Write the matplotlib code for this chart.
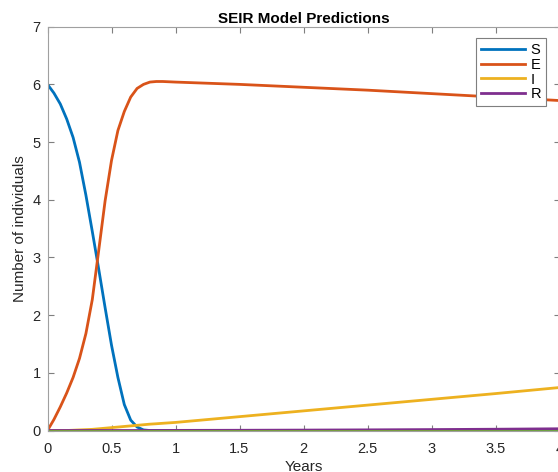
import numpy as np
import matplotlib
matplotlib.use("Agg")
import matplotlib.pyplot as plt

plt.rcParams['font.family'] = ['Liberation Sans', 'DejaVu Sans']

# Time points (years)
t = [0, 0.05, 0.1, 0.15, 0.2, 0.25, 0.3, 0.35, 0.4, 0.45, 0.5, 0.55, 0.6, 0.65,
     0.7, 0.75, 0.8, 0.85, 0.9, 1.0, 1.5, 2.0, 2.5, 3.0, 3.5, 4.0]
S = [6.0, 5.85, 5.66, 5.4, 5.08, 4.65, 4.08, 3.45, 2.8, 2.13, 1.48, 0.92, 0.45, 0.18,
     0.06, 0.01, 0.0, 0.0, 0.0, 0.0, 0.0, 0.0, 0.0, 0.0, 0.0, 0.0]
E = [0.0, 0.19, 0.41, 0.65, 0.92, 1.25, 1.68, 2.27, 3.12, 3.98, 4.68, 5.2, 5.53, 5.78,
     5.93, 6.0, 6.04, 6.05, 6.05, 6.04, 6.0, 5.95, 5.9, 5.84, 5.78, 5.72]
I = [0.0, 0.0, 0.0, 0.0, 0.005, 0.01, 0.015, 0.02, 0.03, 0.04, 0.05, 0.06, 0.07, 0.08,
     0.09, 0.1, 0.11, 0.117, 0.125, 0.14, 0.24, 0.34, 0.44, 0.54, 0.64, 0.745]
R = [0.0, 0.0, 0.0, 0.0, 0.0, 0.0, 0.0, 0.0, 0.0, 0.0, 0.0, 0.0, 0.0, 0.0,
     0.0, 0.0, 0.0, 0.0, 0.001, 0.002, 0.004, 0.007, 0.011, 0.016, 0.022, 0.03]
extra = [0.0] * len(t)
labels = ['S', 'E', 'I', 'R']
colors = ['#0072BD', '#D95319', '#EDB120', '#7E2F8E', '#77AC30']

W, H = 558, 472
fig = plt.figure(figsize=(W / 100, H / 100), dpi=100)
left, right, top, bottom = 47.5, 559.5, 26.7, 430.5
ax = fig.add_axes([left / W, 1 - bottom / H, (right - left) / W, (bottom - top) / H])

lines = []
for y, c, lab in zip([S, E, I, R], colors[:4], labels):
    ln, = ax.plot(t, y, color=c, lw=2.0, label=lab, solid_joinstyle='round')
    lines.append(ln)
ax.plot(t, extra, color=colors[4], lw=2.0)

ax.set_xlim(0, 4)
ax.set_ylim(0, 7)
ax.set_xticks([0, 0.5, 1, 1.5, 2, 2.5, 3, 3.5, 4])
ax.set_xticklabels(['0', '0.5', '1', '1.5', '2', '2.5', '3', '3.5', '4'])
ax.set_yticks(range(8))
grey = '#262626'
for s in ax.spines.values():
    s.set_color('#A0A0A0')
    s.set_linewidth(0.8)
ax.tick_params(direction='in', top=True, right=True, length=4, width=0.8,
               colors='#7F7F7F', labelcolor=grey, labelsize=10.5)
ax.tick_params(axis='x', pad=8)
ax.tick_params(axis='y', pad=5)
ax.set_title('SEIR Model Predictions', fontsize=11, fontweight='bold', color='black', pad=3)
ax.set_xlabel('Years', fontsize=11, color=grey, labelpad=3)
ax.set_ylabel('Number of individuals', fontsize=11, color=grey, labelpad=4)

leg = fig.legend(handles=lines, loc='upper left',
                 bbox_to_anchor=(476 / W, 1 - 38 / H), fontsize=10.5,
                 handlelength=3.0, handletextpad=0.4, labelspacing=0.05,
                 borderpad=0.35, borderaxespad=0, fancybox=False, framealpha=1,
                 edgecolor='#7F7F7F')
leg.get_frame().set_linewidth(0.8)

fig.savefig('out.png', dpi=100)
